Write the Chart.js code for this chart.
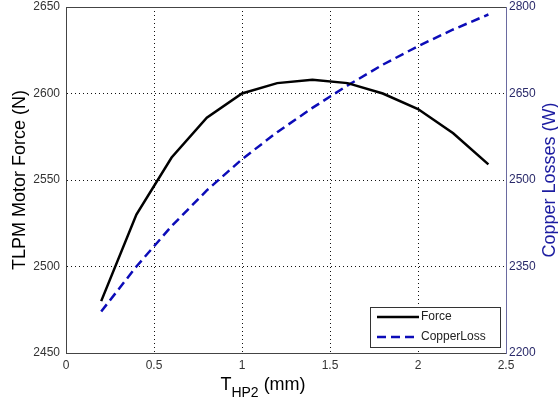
<!DOCTYPE html>
<html>
<head>
<meta charset="utf-8">
<script src="https://cdn.jsdelivr.net/npm/chart.js@4/dist/chart.umd.min.js"></script>
<style>
html,body{margin:0;padding:0;background:#fff;}
#wrap{width:558px;height:400px;position:relative;}
</style>
</head>
<body>
<div id="wrap"><canvas id="c" width="558" height="400"></canvas></div>
<script>
// ---- data ----
const thp2 = [0.2, 0.4, 0.6, 0.8, 1.0, 1.2, 1.4, 1.6, 1.8, 2.0, 2.2, 2.4];
const force = [2480, 2530, 2563, 2586, 2600, 2606, 2608, 2606, 2600, 2591, 2577, 2559];
const copperLoss = [2272, 2350, 2420, 2482, 2536, 2583, 2625, 2664, 2700, 2732, 2761, 2787];
const xTicks = [0, 0.5, 1, 1.5, 2, 2.5];
const forceTicks = [2450, 2500, 2550, 2600, 2650];
const lossTicks = [2200, 2350, 2500, 2650, 2800];
const seriesLabels = ['Force', 'CopperLoss'];
const xTitleMain = 'T', xTitleSub = 'HP2', xTitleUnit = ' (mm)';
const yTitleLeft = 'TLPM Motor Force (N)';
const yTitleRight = 'Copper Losses (W)';

const FONT = "'Liberation Sans', Arial, Helvetica, sans-serif";
const BLUE = '#0c0cb8';

const toPts = (xs, ys) => xs.map((x, i) => ({x: x, y: ys[i]}));
const setTicks = arr => (scale) => { scale.ticks = arr.map(v => ({value: v})); };
const plain = v => String(v);
const fitV = w => s => { s.width = w; s.paddingTop = 0; s.paddingBottom = 0; };

const decor = {
  id: 'decor',
  afterDraw(chart) {
    const ctx = chart.ctx;
    const a = chart.chartArea;
    ctx.save();
    // top border
    ctx.strokeStyle = '#444';
    ctx.lineWidth = 1;
    ctx.beginPath();
    ctx.moveTo(a.left, a.top + 0.5);
    ctx.lineTo(a.right, a.top + 0.5);
    ctx.stroke();

    // axis titles
    ctx.fillStyle = '#000';
    ctx.font = '18px ' + FONT;
    ctx.textAlign = 'center';
    ctx.textBaseline = 'middle';
    ctx.save();
    ctx.translate(20, (a.top + a.bottom) / 2);
    ctx.rotate(-Math.PI / 2);
    ctx.fillText(yTitleLeft, 0, 0);
    ctx.restore();

    ctx.save();
    ctx.fillStyle = '#1c1ca0';
    ctx.translate(550, (a.top + a.bottom) / 2);
    ctx.rotate(-Math.PI / 2);
    ctx.fillText(yTitleRight, 0, 0);
    ctx.restore();

    // x title with subscript
    ctx.textAlign = 'left';
    ctx.textBaseline = 'alphabetic';
    ctx.font = '18px ' + FONT;
    const wT = ctx.measureText(xTitleMain).width;
    const wU = ctx.measureText(xTitleUnit).width;
    ctx.font = '14px ' + FONT;
    const wS = ctx.measureText(xTitleSub).width;
    const total = wT + wS + wU;
    let x0 = 263 - total / 2;
    const base = 390;
    ctx.font = '18px ' + FONT;
    ctx.fillText(xTitleMain, x0, base);
    ctx.font = '14px ' + FONT;
    ctx.fillText(xTitleSub, x0 + wT, base + 7);
    ctx.font = '18px ' + FONT;
    ctx.fillText(xTitleUnit, x0 + wT + wS, base);

    // legend
    const bx = 370, by = 307, bw = 130, bh = 40;
    ctx.fillStyle = '#fff';
    ctx.fillRect(bx, by, bw, bh);
    ctx.strokeStyle = '#333';
    ctx.lineWidth = 1;
    ctx.strokeRect(bx + 0.5, by + 0.5, bw, bh);
    const ds = chart.data.datasets;
    const rows = [317, 337];
    ds.forEach((d, i) => {
      ctx.beginPath();
      ctx.strokeStyle = d.borderColor;
      ctx.lineWidth = 2.5;
      ctx.setLineDash(d.borderDash || []);
      ctx.moveTo(377, rows[i]);
      ctx.lineTo(419, rows[i]);
      ctx.stroke();
      ctx.setLineDash([]);
      ctx.fillStyle = '#222';
      ctx.font = '12px ' + FONT;
      ctx.textAlign = 'left';
      ctx.textBaseline = 'middle';
      ctx.fillText(d.label, 421, rows[i]);
    });
    ctx.restore();
  }
};

new Chart(document.getElementById('c'), {
  type: 'line',
  data: {
    datasets: [
      {label: seriesLabels[0], data: toPts(thp2, force), yAxisID: 'y',
       borderColor: '#000', borderWidth: 2.5, pointRadius: 0, tension: 0, fill: false},
      {label: seriesLabels[1], data: toPts(thp2, copperLoss), yAxisID: 'y1',
       borderColor: BLUE, borderWidth: 2.5, borderDash: [9, 5], pointRadius: 0, tension: 0, fill: false}
    ]
  },
  options: {
    responsive: false,
    animation: false,
    layout: {padding: {top: 7, left: 0, right: 0, bottom: 0}},
    plugins: {legend: {display: false}, tooltip: {enabled: false}},
    scales: {
      x: {
        type: 'linear', min: 0, max: 2.5,
        afterBuildTicks: setTicks(xTicks),
        afterFit: s => { s.height = 47; s.paddingLeft = 0; s.paddingRight = 0; },
        border: {display: true, color: '#444', width: 1, dash: [1, 3]},
        grid: {
          drawTicks: false,
          color: c => (c.tick && (c.tick.value === 0 || c.tick.value === 2.5)) ? 'rgba(0,0,0,0)' : '#111',
          lineWidth: 1
        },
        ticks: {padding: 5, color: '#333', font: {family: FONT, size: 12}, maxRotation: 0, callback: plain}
      },
      y: {
        type: 'linear', position: 'left', min: 2450, max: 2650,
        afterBuildTicks: setTicks(forceTicks),
        afterFit: fitV(66),
        border: {display: true, color: '#444', width: 1, dash: [1, 3]},
        grid: {
          drawTicks: false,
          color: c => (c.tick && (c.tick.value === 2450 || c.tick.value === 2650)) ? 'rgba(0,0,0,0)' : '#111',
          lineWidth: 1
        },
        ticks: {padding: 6, color: '#333', font: {family: FONT, size: 12}, callback: plain}
      },
      y1: {
        type: 'linear', position: 'right', min: 2200, max: 2800,
        afterBuildTicks: setTicks(lossTicks),
        afterFit: fitV(52),
        border: {display: true, color: '#6a6aa0', width: 1},
        grid: {display: false, drawTicks: false},
        ticks: {padding: 3, color: '#2a2a6a', font: {family: FONT, size: 12}, callback: plain}
      }
    }
  },
  plugins: [decor]
});
</script>
</body>
</html>
